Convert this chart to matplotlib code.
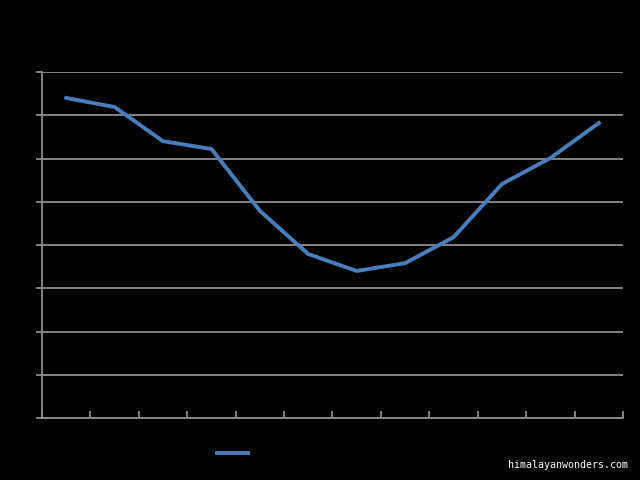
import matplotlib
matplotlib.use("Agg")
import matplotlib.pyplot as plt
from matplotlib.ticker import FixedLocator

months = ["Jan", "Feb", "Mar", "Apr", "May", "Jun", "Jul", "Aug", "Sep", "Oct", "Nov", "Dec"]
sunshine_hours = [7.40, 7.19, 6.40, 6.22, 4.79, 3.79, 3.40, 3.58, 4.18, 5.41, 6.01, 6.82]
series_name = "Sunshine hours"
y_ticks = [0, 1, 2, 3, 4, 5, 6, 7, 8]
watermark = "himalayanwonders.com"

fig = plt.figure(figsize=(6.4, 4.8), dpi=100, facecolor="black")
ax = fig.add_axes([42/640, 1 - 418/480, (623 - 42)/640, (418 - 72)/480])
ax.set_facecolor("black")

x = list(range(len(months)))
line, = ax.plot(x, sunshine_hours, color="#4a7ebb", linewidth=2.8,
                solid_joinstyle="round", label=series_name)

ax.set_xlim(-0.5, len(months) - 0.5)
ax.set_ylim(y_ticks[0], y_ticks[-1])
ax.set_yticks(y_ticks)
ax.set_yticklabels([str(v) for v in y_ticks], color="black", fontsize=8)
ax.yaxis.grid(True, color="#8c8c8c", linewidth=1.3)
ax.set_axisbelow(True)

ax.set_xticks(x)
ax.set_xticklabels(months, color="black", fontsize=8)
ax.tick_params(axis="x", which="major", length=0)
ax.xaxis.set_minor_locator(FixedLocator([i + 0.5 for i in range(-1, len(months))]))
ax.tick_params(axis="x", which="minor", direction="in", length=5, width=1.3, color="#8c8c8c")
ax.tick_params(axis="y", which="major", direction="out", length=4, width=1.3, color="#8c8c8c")

for side in ("top", "right"):
    ax.spines[side].set_visible(False)
for side in ("left", "bottom"):
    ax.spines[side].set_color("#8c8c8c")
    ax.spines[side].set_linewidth(1.3)

leg = fig.legend(handles=[line], loc="center left",
                 bbox_to_anchor=(217/640, (480 - 454)/480),
                 frameon=False, borderpad=0, borderaxespad=0,
                 handlelength=2.2, fontsize=10, labelcolor="black")

fig.text(628/640, (480 - 465)/480, watermark, color="white",
         fontsize=7.2, family="DejaVu Sans Mono", ha="right", va="center")

fig.savefig("out.png", dpi=100, facecolor="black")
